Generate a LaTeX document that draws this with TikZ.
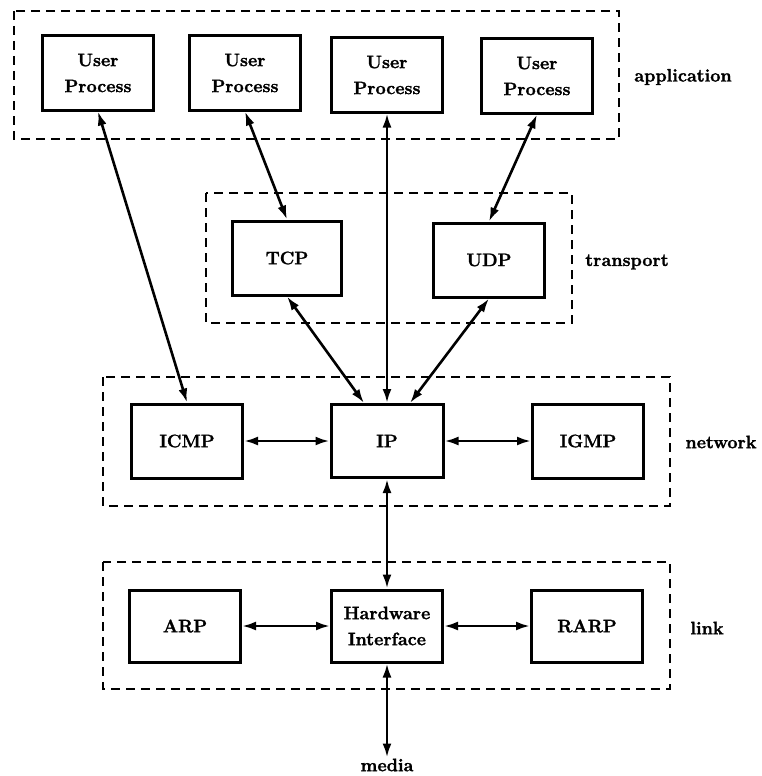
\documentclass[tikz,border=0pt]{standalone}
\usepackage{fontspec}
\setmainfont{Latin Modern Roman}[BoldFeatures={FakeBold=1.6}]
\usepackage{tikz}
\usetikzlibrary{arrows.meta, positioning}

\begin{document}
\begin{tikzpicture}[x=1pt, y=-1pt,
    proto/.style={draw, line width=3pt, minimum width=111pt, minimum height=74pt,
                  inner sep=0pt, align=center, font=\fontsize{18}{26}\selectfont\bfseries},
    layerframe/.style={line width=2.8pt, dash pattern=on 9pt off 6pt},
    layername/.style={font=\fontsize{18}{22}\selectfont\bfseries},
    link/.style={{Latex[length=14pt,width=9pt]}-{Latex[length=14pt,width=9pt]}, line width=2.6pt}]
  \useasboundingbox (0,0) rectangle (762,776);

  \draw[layerframe] (14,11) rectangle (619,139);
  \draw[layerframe] (206,193) rectangle (572,323);
  \draw[layerframe] (103,377) rectangle (670,506);
  \draw[layerframe] (103,562) rectangle (670,689);

  \node[proto] (up1) at (98,73)   {User\\Process};
  \node[proto] (up2) at (245,73)  {User\\Process};
  \node[proto] (up3) at (387,75)  {User\\Process};
  \node[proto] (up4) at (537,76)  {User\\Process};
  \node[layername] (app) at (683,77) {application};

  \node[proto, minimum width=109pt] (tcp) at (287,258) {TCP};
  \node[proto] (udp) at (489,260) {UDP};
  \node[layername] (trans) at (627,262) {transport};

  \node[proto] (icmp) at (187,441) {ICMP};
  \node[proto, minimum width=112pt, minimum height=73pt] (ip) at (387,441) {IP};
  \node[proto] (igmp) at (588,441) {IGMP};
  \node[layername] (net) at (721,442) {network};

  \node[proto, minimum height=72pt] (arp) at (185,626) {ARP};
  \node[proto, minimum height=72pt] (hw) at (387,626) {Hardware\\Interface};
  \node[proto, minimum height=72pt] (rarp) at (587,626) {RARP};
  \node[layername] (lnk) at (707,628) {link};

  \node[layername, inner sep=1pt] (media) at (387,765) {media};

  \draw[link] (up1.south) -- (icmp.north);
  \draw[link] (up2.south) -- (tcp.north);
  \draw[link] (up3.south) -- (ip.north);
  \draw[link] (up4.south) -- (udp.north);
  \draw[link] (tcp.south) -- ([xshift=-23pt]ip.north);
  \draw[link] (udp.south) -- ([xshift=23pt]ip.north);
  \draw[link] (icmp) -- (ip);
  \draw[link] (ip) -- (igmp);
  \draw[link] (ip) -- (hw);
  \draw[link] (arp) -- (hw);
  \draw[link] (hw) -- (rarp);
  \draw[link] (hw) -- (media);
\end{tikzpicture}
\end{document}
